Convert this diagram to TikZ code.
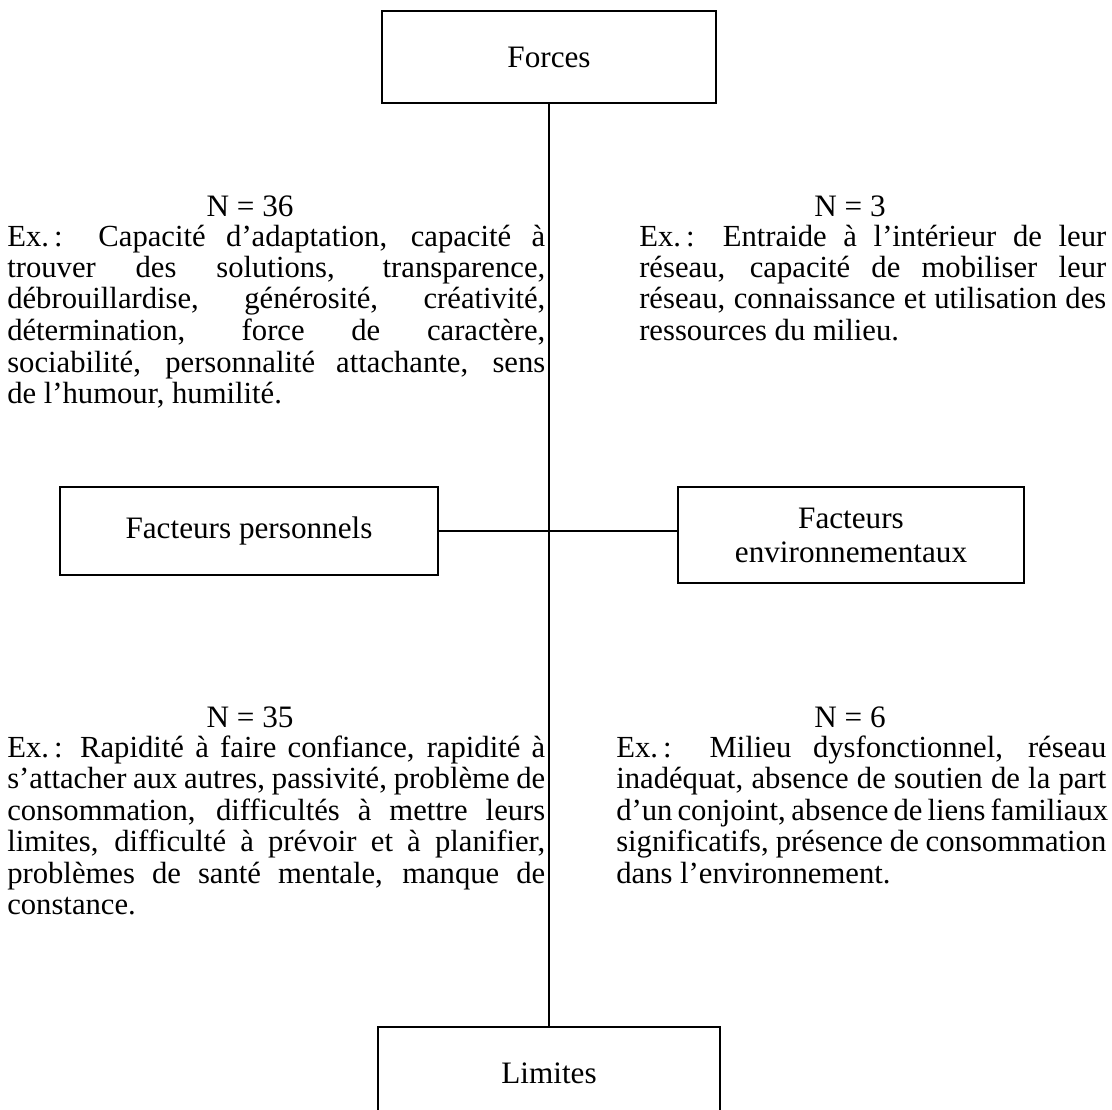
\documentclass[tikz,border=0pt]{standalone}
\usepackage{fontspec}
\setmainfont{Liberation Serif}
\newcommand\jline[1]{\hbox to \hsize{#1}}
\begin{document}
\begin{tikzpicture}[x=0.75pt,y=-0.75pt,
  every node/.style={font=\fontsize{23.0}{23.0}\selectfont},
  catbox/.style={draw,line width=1.2pt,inner sep=0pt,align=center,font=\fontsize{23.4}{23.4}\selectfont},
  link/.style={line width=1.2pt},
  nlabel/.style={inner sep=0pt,anchor=base,font=\fontsize{23.4}{23.4}\selectfont},
  para/.style={inner sep=0pt,anchor=base west}]
\path[use as bounding box,clip] (0,0) rectangle (1112,1109);
\fill[white] (0,0) rectangle (1112,1109);

% boxes
\node[catbox,minimum width=334*0.75pt,minimum height=92*0.75pt] (forces) at (549,57) {Forces};
\node[catbox,minimum width=378*0.75pt,minimum height=88*0.75pt] (pers) at (249,531) {Facteurs personnels};
\node[catbox,minimum width=346*0.75pt,minimum height=96*0.75pt] (env) at (851,535) {Facteurs\\[2pt]environnementaux};
\node[catbox,minimum width=342*0.75pt,minimum height=92*0.75pt] (lim) at (549,1073) {Limites};

% connectors
\draw[link] (forces.south) -- (lim.north);
\draw[link] (pers.east) -- (pers.east -| env.west);

% counts
\node[nlabel] (n36) at (250,216) {N = 36};
\node[nlabel] (n3) at (850,216) {N = 3};
\node[nlabel] (n35) at (250,727) {N = 35};
\node[nlabel] (n6) at (850,727) {N = 6};

% paragraphs
\node[para] (p36) at (7,246) {\vtop{\hsize=538\dimexpr 0.75pt\relax\baselineskip=31.5\dimexpr 0.75pt\relax
\jline{Ex.\,: Capacité d’adaptation, capacité à}
\jline{trouver des solutions, transparence,}
\jline{débrouillardise, générosité, créativité,}
\jline{détermination, force de caractère,}
\jline{sociabilité, personnalité attachante, sens}
\hbox{de l’humour, humilité.}}};

\node[para] (p3) at (639,246) {\vtop{\hsize=467\dimexpr 0.75pt\relax\baselineskip=31.5\dimexpr 0.75pt\relax
\jline{Ex.\,: Entraide à l’intérieur de leur}
\jline{réseau, capacité de mobiliser leur}
\jline{réseau, connaissance et utilisation des}
\hbox{ressources du milieu.}}};

\node[para] (p35) at (7,757) {\vtop{\hsize=538\dimexpr 0.75pt\relax\baselineskip=31.5\dimexpr 0.75pt\relax
\jline{Ex.\,: Rapidité à faire confiance, rapidité à}
\jline{s’attacher aux autres, passivité, problème de}
\jline{consommation, difficultés à mettre leurs}
\jline{limites, difficulté à prévoir et à planifier,}
\jline{problèmes de santé mentale, manque de}
\hbox{constance.}}};

\node[para] (p6) at (616,757) {\vtop{\hsize=490\dimexpr 0.75pt\relax\baselineskip=31.5\dimexpr 0.75pt\relax
\jline{Ex.\,: Milieu dysfonctionnel, réseau}
\jline{inadéquat, absence de soutien de la part}
\jline{d’un conjoint, absence de liens familiaux}
\jline{significatifs, présence de consommation}
\hbox{dans l’environnement.}}};
\end{tikzpicture}
\end{document}
